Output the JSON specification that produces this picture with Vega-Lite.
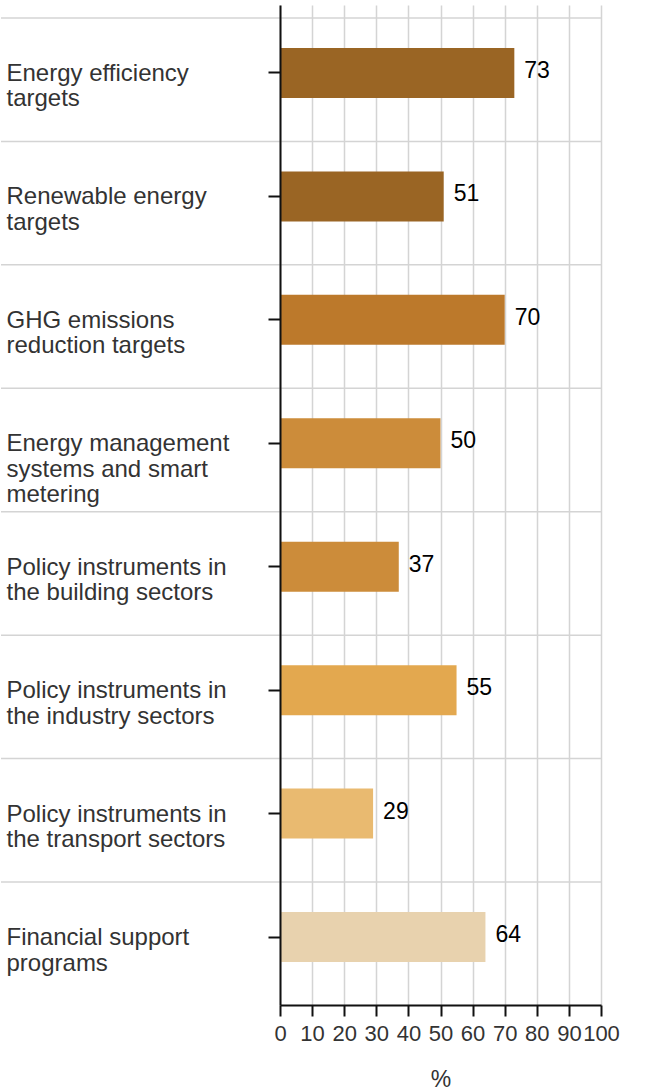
{
  "$schema": "https://vega.github.io/schema/vega-lite/v6.json",
  "width": 600,
  "height": 1000,
  "padding": {"left": 0, "top": 5, "right": 0, "bottom": 0},
  "background": "white",
  "config": {"view": {"stroke": null}, "font": "Liberation Sans"},
  "data": {"values": [
    {"label": "Energy efficiency|targets", "value": 73},
    {"label": "Renewable energy|targets", "value": 51},
    {"label": "GHG emissions|reduction targets", "value": 70},
    {"label": "Energy management|systems and smart|metering", "value": 50},
    {"label": "Policy instruments in|the building sectors", "value": 37},
    {"label": "Policy instruments in|the industry sectors", "value": 55},
    {"label": "Policy instruments in|the transport sectors", "value": 29},
    {"label": "Financial support|programs", "value": 64}
  ]},
  "layer": [
    {
      "mark": {"type": "rule", "color": "#d4d4d4", "strokeWidth": 1.5, "yOffset": -55},
      "encoding": {
        "y": {"field": "label", "type": "nominal", "sort": null}
      }
    },
    {
      "mark": {"type": "bar"},
      "encoding": {
        "y": {
          "field": "label", "type": "nominal", "sort": null,
          "scale": {"paddingInner": 0.595, "paddingOuter": 0.348},
          "axis": {
            "orient": "left", "offset": -279, "title": null, "grid": false,
            "domainColor": "#111", "domainWidth": 2,
            "tickColor": "#111", "tickWidth": 2, "tickSize": 12,
            "labelAlign": "left", "labelBaseline": "top", "labelOffset": -11,
            "labelPadding": 262, "labelFontSize": 24, "labelFont": "Liberation Sans",
            "labelColor": "#333", "labelLineHeight": 25.5, "labelLimit": 400,
            "labelOverlap": false, "labelBound": false,
            "labelExpr": "split(datum.label, '|')", "zindex": 1
          }
        },
        "x": {
          "field": "value", "type": "quantitative",
          "scale": {"domain": [0, 100], "range": [279, 600], "nice": false},
          "axis": {
            "orient": "bottom", "values": [0, 10, 20, 30, 40, 50, 60, 70, 80, 90, 100],
            "grid": true, "gridColor": "#d4d4d4", "gridWidth": 1.5,
            "domainColor": "#111", "domainWidth": 2,
            "tickColor": "#111", "tickWidth": 2, "tickSize": 11,
            "labelPadding": 7, "labelFontSize": 22, "labelColor": "#333",
            "labelFont": "Liberation Sans", "labelOverlap": false, "labelFlush": false,
            "title": "%", "titleFontSize": 23, "titleFontWeight": "normal",
            "titleColor": "#333", "titleFont": "Liberation Sans", "titlePadding": 24
          }
        },
        "color": {
          "field": "label", "type": "nominal", "legend": null,
          "scale": {
            "domain": [
              "Energy efficiency|targets",
              "Renewable energy|targets",
              "GHG emissions|reduction targets",
              "Energy management|systems and smart|metering",
              "Policy instruments in|the building sectors",
              "Policy instruments in|the industry sectors",
              "Policy instruments in|the transport sectors",
              "Financial support|programs"
            ],
            "range": ["#9A6524", "#9A6524", "#BC792B", "#CC8C3A", "#CC8C3A", "#E3A84F", "#E9BA70", "#E8D2AE"]
          }
        }
      }
    },
    {
      "mark": {"type": "text", "align": "left", "baseline": "middle", "dx": 10, "dy": -2, "fontSize": 23, "color": "#000", "font": "Liberation Sans"},
      "encoding": {
        "y": {"field": "label", "type": "nominal", "sort": null},
        "x": {"field": "value", "type": "quantitative"},
        "text": {"field": "value", "type": "quantitative"}
      }
    }
  ]
}
